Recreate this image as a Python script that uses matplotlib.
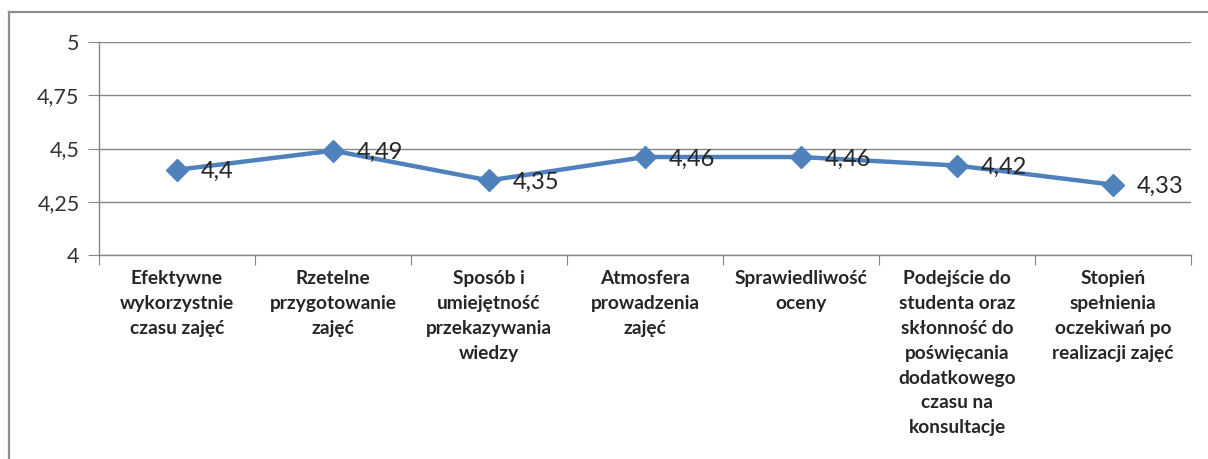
import matplotlib
matplotlib.use("Agg")
import matplotlib.pyplot as plt
from matplotlib.lines import Line2D

categories = [
    "Efektywne\nwykorzystnie\nczasu zajęć",
    "Rzetelne\nprzygotowanie\nzajęć",
    "Sposób i\numiejętność\nprzekazywania\nwiedzy",
    "Atmosfera\nprowadzenia\nzajęć",
    "Sprawiedliwość\noceny",
    "Podejście do\nstudenta oraz\nskłonność do\npoświęcania\ndodatkowego\nczasu na\nkonsultacje",
    "Stopień\nspełnienia\noczekiwań po\nrealizacji zajęć",
]
values = [4.4, 4.49, 4.35, 4.46, 4.46, 4.42, 4.33]
value_labels = ["4,4", "4,49", "4,35", "4,46", "4,46", "4,42", "4,33"]
yticks = [4, 4.25, 4.5, 4.75, 5]
ytick_labels = ["4", "4,25", "4,5", "4,75", "5"]

plt.rcParams['font.family'] = ['Lato', 'DejaVu Sans']

W, H = 1208, 459
fig = plt.figure(figsize=(W / 100, H / 100), dpi=100)
fig.patch.set_facecolor("white")

# chart border (top and left visible; right/bottom cropped)
border_col = "#8c8c8c"
fig.add_artist(Line2D([9 / W, 1.0], [1 - 12 / H, 1 - 12 / H], color=border_col, lw=1.6))
fig.add_artist(Line2D([9 / W, 9 / W], [0, 1 - 12 / H], color=border_col, lw=1.6))

left, right = 99 / W, 1191 / W
bottom, top = 1 - 255 / H, 1 - 42 / H
ax = fig.add_axes([left, bottom, right - left, top - bottom])

n = len(categories)
x = list(range(n))
ax.set_xlim(-0.5, n - 0.5)
ax.set_ylim(4, 5)

grid_col = "#868686"
for yv in yticks:
    ax.axhline(yv, color=grid_col, lw=1.0, zorder=1)

for s in ["top", "right"]:
    ax.spines[s].set_visible(False)
ax.spines["left"].set_color(grid_col)
ax.spines["bottom"].set_color(grid_col)
ax.spines["left"].set_linewidth(1.0)
ax.spines["bottom"].set_linewidth(1.0)

ax.set_yticks(yticks)
ax.set_yticklabels(ytick_labels, fontsize=15.5, color="#333333")
ax.tick_params(axis="y", length=8, color=grid_col, pad=6)

# x ticks between categories
ax.set_xticks([i - 0.5 for i in range(n + 1)], minor=False)
ax.set_xticklabels([""] * (n + 1))
ax.tick_params(axis="x", which="major", length=7, color=grid_col)
ax.set_xticks(x, minor=True)
ax.set_xticklabels(categories, minor=True, fontsize=13.8, fontweight="bold",
                   color="#262626", linespacing=1.56, va="top")
ax.tick_params(axis="x", which="minor", length=0, pad=11)

line_col = "#4F81BD"
ax.plot(x, values, color=line_col, lw=3.2, marker="D", markersize=11,
        markerfacecolor=line_col, markeredgecolor=line_col, zorder=3, clip_on=False)

for xi, v, lab in zip(x, values, value_labels):
    ax.annotate(lab, (xi, v), xytext=(24, -2), textcoords="offset pixels",
                ha="left", va="center", fontsize=17, color="#262626", zorder=4)

fig.savefig("out.png", dpi=100, facecolor="white")
